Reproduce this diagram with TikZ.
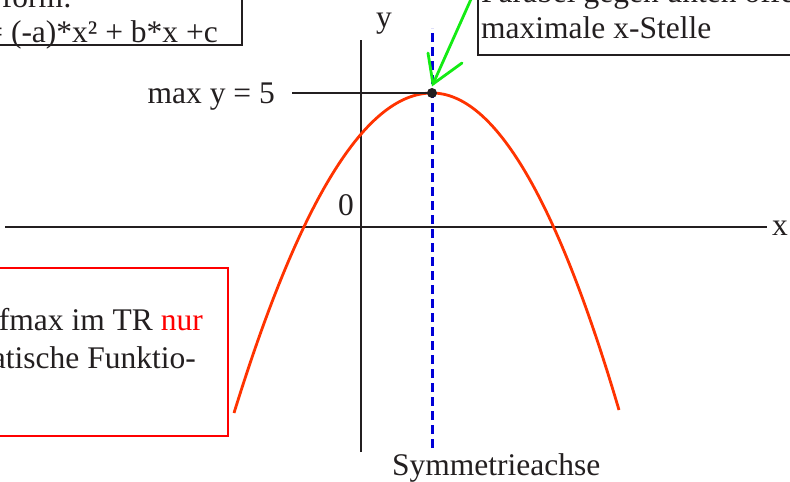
\documentclass[tikz,border=0pt]{standalone}
\usepackage{fontspec}
\setmainfont{Liberation Serif}
\definecolor{axisgray}{RGB}{35,31,32}
\definecolor{parared}{RGB}{255,51,0}
\definecolor{arrowgreen}{RGB}{20,235,20}
\definecolor{symblue}{RGB}{0,0,215}
\definecolor{boxred}{RGB}{255,0,0}
\tikzset{
  lbl/.style={inner sep=0pt, font=\fontsize{31.5}{36}\selectfont, text=axisgray},
  axisline/.style={draw=axisgray, line width=2.8pt},
  boxline/.style={draw=axisgray, line width=2.8pt},
  redbox/.style={draw=boxred, line width=2.8pt},
  curve/.style={draw=parared, line width=2.8pt},
  symline/.style={draw=symblue, line width=3pt, dash pattern=on 9pt off 5pt},
  greenline/.style={draw=arrowgreen, line width=2.8pt, line cap=round},
}
\begin{document}
\begin{tikzpicture}[x=1pt,y=-1pt]
\useasboundingbox (0,0) rectangle (790,482);
\fill[white] (0,0) rectangle (790,482);

% coordinates
\coordinate (V) at (432,93);
\coordinate (tip) at (433,84);
\coordinate (gstart) at (476,-12);
\coordinate (xl) at (5,227);
\coordinate (xr) at (767,227);
\coordinate (yb) at (361,452);
\coordinate (yt) at (361,40);
\coordinate (st) at (432,28);
\coordinate (sb) at (432,448);
\coordinate (my) at (292,93);

% top-left box
\draw[boxline] (-20,-20) rectangle (242,45);
\node[lbl, anchor=base east] (tl1) at (72,7) {form:};
\node[lbl, anchor=base east] (tl2) at (218,42) {= (-a)*x² + b*x +c};

% top-right box
\draw[boxline] (478,-20) rectangle (820,55);
\node[lbl, anchor=base west] (tr1) at (481,2) {Parabel gegen unten offen};
\node[lbl, anchor=base west] (tr2) at (481,38) {maximale x-Stelle};

% red box
\draw[redbox] (-20,268) rectangle (228,436);
\node[lbl, anchor=base east] (rb1) at (203,330) {fmax im TR \textcolor{boxred}{nur}};
\node[lbl, anchor=base east] (rb2) at (196,368) {atische Funktio-};

% axes
\draw[axisline] (xl) -- (xr);
\draw[axisline] (yb) -- (yt);
\node[lbl, anchor=base west] (xlab) at (772,235) {x};
\node[lbl, anchor=base west] (ylab) at (376,27) {y};
\node[lbl, anchor=base west] (zero) at (338,215) {0};

% symmetry axis
\draw[symline] (sb) -- (st);
\node[lbl, anchor=base west] (symlab) at (392,475) {Symmetrieachse};

% parabola
\draw[curve] (234,413) .. controls (300,199.7) and (366,93) .. (V)
             .. controls (494.3,93) and (556.7,198.7) .. (619,410);

% max y line
\draw[axisline] (my) -- (V);
\node[lbl, anchor=base east] (maxlab) at (275,103) {max y = 5};

% vertex dot
\fill[axisgray] (V) circle (5pt);

% green arrow
\draw[greenline] (gstart) -- (tip);
\draw[greenline] (428,53) -- (tip) -- (462,63);
\end{tikzpicture}
\end{document}
